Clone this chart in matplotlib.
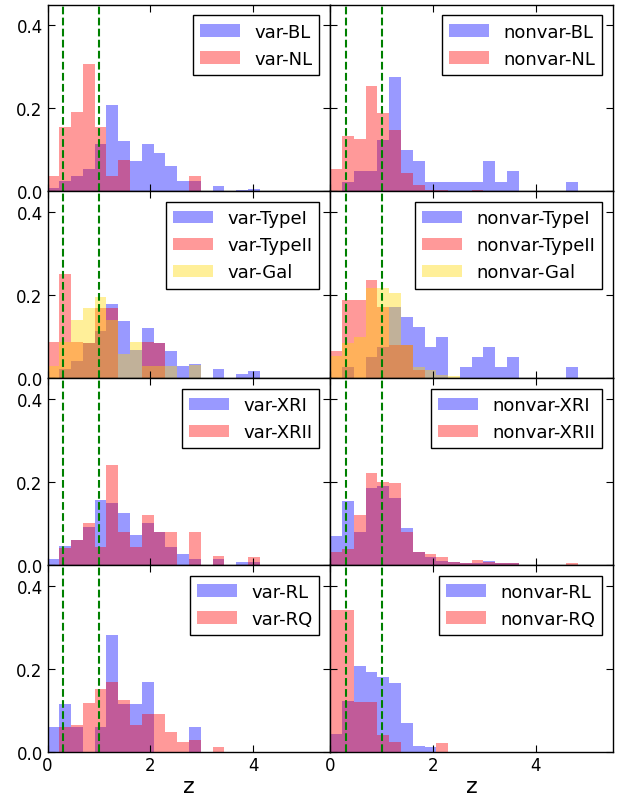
import numpy as np
import matplotlib
matplotlib.use("Agg")
from matplotlib import pyplot as plt

# common binning in z (24 bins over 0-5.5)
Z_EDGES = np.linspace(0, 5.5, 25)
Z_LINES = [0.3, 1.0]

# fractions per bin
BL_VAR = [0.008, 0.024, 0.038, 0.053, 0.113, 0.208, 0.121, 0.073, 0.113, 0.093, 0.061, 0.024,
          0.024, 0, 0.012, 0, 0.004, 0.006]
NL_VAR = [0.036, 0.155, 0.192, 0.308, 0.155, 0.036, 0.075, 0, 0, 0, 0, 0, 0.038]
BL_NON = [0, 0.022, 0.049, 0.049, 0.124, 0.275, 0.099, 0.073, 0.022, 0.022, 0.022, 0.022,
          0.022, 0.073, 0.022, 0.049, 0, 0, 0, 0, 0.022]
NL_NON = [0.054, 0.134, 0.127, 0.253, 0.19, 0.147, 0.045, 0.016, 0.004, 0.004, 0, 0, 0.004]

TYPE1_VAR = [0, 0.022, 0.04, 0.084, 0.114, 0.178, 0.138, 0.068, 0.12, 0.084, 0.066, 0.028,
             0.034, 0, 0.022, 0, 0.01, 0.016]
TYPE2_VAR = [0.086, 0.252, 0.086, 0.084, 0.168, 0.168, 0, 0, 0.086, 0.084]
GAL_VAR = [0.028, 0.086, 0.14, 0.168, 0.196, 0.14, 0.058, 0.086, 0.028, 0.028, 0.028, 0, 0.032]
TYPE1_NON = [0, 0.026, 0, 0.05, 0.074, 0.172, 0.148, 0.124, 0.074, 0.098, 0, 0.026, 0.05,
             0.074, 0.026, 0.05, 0, 0, 0, 0, 0.026]
TYPE2_NON = [0.066, 0.188, 0.188, 0.236, 0.172, 0.08, 0.08, 0.02]
GAL_NON = [0.054, 0.084, 0.098, 0.218, 0.218, 0.206, 0.08, 0.026, 0.02, 0.008, 0.004]

XR1_VAR = [0.014, 0.046, 0.06, 0.09, 0.157, 0.15, 0.124, 0.072, 0.1, 0.08, 0.042, 0.026,
           0.014, 0, 0.014, 0, 0.006, 0.006]
XR2_VAR = [0, 0.041, 0.06, 0.1, 0.042, 0.24, 0.08, 0.042, 0.12, 0.08, 0.08, 0, 0.08, 0,
           0.021, 0, 0, 0.02]
XR1_NON = [0.07, 0.153, 0.078, 0.186, 0.19, 0.162, 0.088, 0.032, 0.02, 0.01, 0.006, 0.005,
           0.005, 0.01, 0.005, 0.005]
XR2_NON = [0.03, 0.038, 0.12, 0.221, 0.2, 0.197, 0.08, 0.032, 0.026, 0.018, 0.006, 0.005,
           0.012, 0.006, 0.005, 0.005, 0, 0, 0, 0, 0.005]

RL_VAR = [0.058, 0.114, 0.058, 0, 0.058, 0.28, 0.114, 0.114, 0.168, 0, 0, 0, 0.058]
RQ_VAR = [0, 0.058, 0.064, 0.116, 0.15, 0.168, 0.124, 0.064, 0.09, 0.09, 0.046, 0.022, 0.028,
          0, 0.01]
RL_NON = [0.042, 0.122, 0.205, 0.192, 0.18, 0.164, 0.069, 0.014, 0.01]
RQ_NON = [0.34, 0.34, 0.12, 0.12, 0.04, 0.022, 0, 0, 0, 0.021]

PANELS = [
    [[(BL_VAR, "var-BL"), (NL_VAR, "var-NL")],
     [(BL_NON, "nonvar-BL"), (NL_NON, "nonvar-NL")]],
    [[(TYPE1_VAR, "var-TypeI"), (TYPE2_VAR, "var-TypeII"), (GAL_VAR, "var-Gal")],
     [(TYPE1_NON, "nonvar-TypeI"), (TYPE2_NON, "nonvar-TypeII"), (GAL_NON, "nonvar-Gal")]],
    [[(XR1_VAR, "var-XRI"), (XR2_VAR, "var-XRII")],
     [(XR1_NON, "nonvar-XRI"), (XR2_NON, "nonvar-XRII")]],
    [[(RL_VAR, "var-RL"), (RQ_VAR, "var-RQ")],
     [(RL_NON, "nonvar-RL"), (RQ_NON, "nonvar-RQ")]],
]
COLORS = ["b", "r", "gold"]

fig, axes = plt.subplots(4, 2, sharex=True, sharey=True, figsize=(6.18, 8.04), dpi=100)
fig.subplots_adjust(left=0.077, right=0.992, top=0.993, bottom=0.064, hspace=0, wspace=0)

centers = 0.5 * (Z_EDGES[:-1] + Z_EDGES[1:])

for row in range(4):
    for col in range(2):
        ax = axes[row, col]
        for (vals, label), color in zip(PANELS[row][col], COLORS):
            w = np.zeros(len(centers))
            w[:len(vals)] = vals
            ax.hist(centers, bins=Z_EDGES, weights=w, histtype="stepfilled",
                    alpha=0.4, color=color, label=label)
        for zl in Z_LINES:
            ax.axvline(zl, color="g", linestyle="--", linewidth=1.5)
        leg = ax.legend(loc="upper right", fontsize=13, fancybox=False, framealpha=1,
                        handlelength=2.2, borderaxespad=0.6)
        leg.get_frame().set_edgecolor("black")
        ax.tick_params(direction="in", top=True, right=True, length=5, labelsize=12)
        for sp in ax.spines.values():
            sp.set_linewidth(1.0)

axes[0, 0].set_xlim(0, 5.5)
axes[0, 0].set_ylim(0, 0.45)
axes[0, 0].set_xticks([0, 2, 4])
axes[0, 0].set_yticks([0.0, 0.2, 0.4])
for col in range(2):
    axes[3, col].set_xlabel("z", fontsize=16, labelpad=1)

plt.savefig("out.png")
